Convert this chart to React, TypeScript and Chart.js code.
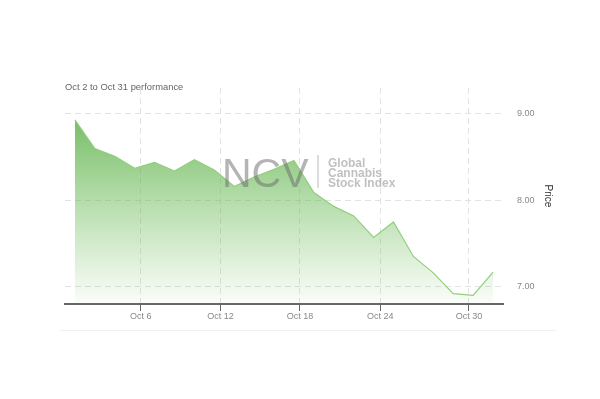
import React, { useEffect, useRef } from "react";
import { Chart, registerables } from "chart.js";

Chart.register(...registerables);

// Trading days Oct 2 – Oct 31
const dates = [
  "Oct 2", "Oct 3", "Oct 4", "Oct 5", "Oct 6",
  "Oct 9", "Oct 10", "Oct 11", "Oct 12", "Oct 13",
  "Oct 16", "Oct 17", "Oct 18", "Oct 19", "Oct 20",
  "Oct 23", "Oct 24", "Oct 25", "Oct 26", "Oct 27",
  "Oct 30", "Oct 31",
];
const prices = [
  8.93, 8.6, 8.51, 8.37, 8.44,
  8.34, 8.47, 8.35, 8.16, 8.27,
  8.36, 8.46, 8.09, 7.93, 7.82,
  7.57, 7.75, 7.35, 7.16, 6.92,
  6.9, 7.17,
];
const xTickPositions = [3.31, 7.31, 11.3, 15.33, 19.79];
const xTickLabels = ["Oct 6", "Oct 12", "Oct 18", "Oct 24", "Oct 30"];
const yTicks = [7, 8, 9];
const subtitle = "Oct 2 to Oct 31 performance";
const watermarkBig = "NCV";
const watermarkLines = ["Global", "Cannabis", "Stock Index"];

const FONT = "'Liberation Sans', Arial, sans-serif";

const decorPlugin = {
  id: "decor",
  beforeDraw(chart: any) {
    const ctx = chart.ctx;
    ctx.save();
    ctx.strokeStyle = "#f1f1f1";
    ctx.lineWidth = 1;
    ctx.beginPath();
    ctx.moveTo(60, 330.5);
    ctx.lineTo(556, 330.5);
    ctx.stroke();
    ctx.fillStyle = "#666";
    ctx.font = `9.4px ${FONT}`;
    ctx.textBaseline = "middle";
    ctx.textAlign = "left";
    ctx.fillText(subtitle, 65, 87);
    ctx.restore();
  },
  afterDatasetsDraw(chart: any) {
    const ctx = chart.ctx;
    const { left, top } = chart.chartArea;
    ctx.save();
    ctx.textAlign = "left";
    ctx.textBaseline = "alphabetic";
    ctx.fillStyle = "rgba(105,105,105,0.5)";
    ctx.font = `41px ${FONT}`;
    ctx.fillText(watermarkBig, left + 157, top + 99);
    ctx.strokeStyle = "rgba(150,150,150,0.45)";
    ctx.lineWidth = 1.5;
    ctx.beginPath();
    ctx.moveTo(left + 253, top + 67);
    ctx.lineTo(left + 253, top + 100);
    ctx.stroke();
    ctx.fillStyle = "rgba(150,150,150,0.6)";
    ctx.font = `bold 12px ${FONT}`;
    watermarkLines.forEach((t, i) => {
      ctx.fillText(t, left + 263, top + 79 + i * 10);
    });
    ctx.restore();
  },
};

export default function App() {
  const canvasRef = useRef<HTMLCanvasElement | null>(null);

  useEffect(() => {
    const canvas = canvasRef.current;
    if (!canvas) return;
    const chart = new Chart(canvas, {
      type: "line",
      data: {
        labels: dates,
        datasets: [
          {
            label: "Price",
            data: prices.map((p, i) => ({ x: i, y: p })),
            borderColor: "rgb(145,207,125)",
            borderWidth: 1.2,
            pointRadius: 0,
            tension: 0,
            fill: "start",
            backgroundColor: (c: any) => {
              const area = c.chart.chartArea;
              if (!area) return "rgba(95,178,75,0.5)";
              const g = c.chart.ctx.createLinearGradient(0, area.top, 0, area.bottom);
              g.addColorStop(0, "rgba(92,176,72,0.98)");
              g.addColorStop(0.5, "rgba(100,182,80,0.5)");
              g.addColorStop(1, "rgba(110,190,90,0.03)");
              return g;
            },
          },
        ],
      },
      options: {
        responsive: false,
        animation: false,
        devicePixelRatio: 1,
        layout: { padding: { left: 65, top: 88, right: 0, bottom: 0 } },
        plugins: {
          legend: { display: false },
          tooltip: { enabled: false },
          title: { display: false },
        },
        scales: {
          x: {
            type: "linear",
            position: "bottom",
            min: -0.5,
            max: 21.5,
            afterBuildTicks: (s: any) => {
              s.ticks = xTickPositions.map((v) => ({ value: v }));
            },
            afterFit: (s: any) => {
              s.height = 95;
            },
            ticks: {
              autoSkip: false,
              maxRotation: 0,
              color: "#888",
              font: { size: 9, family: FONT },
              padding: 0,
              callback: (_v: any, i: number) => xTickLabels[i],
            },
            grid: {
              color: "#e2e2e2",
              lineWidth: 1,
              drawTicks: true,
              tickLength: 7,
              tickColor: "#666",
              tickWidth: 1,
            },
            border: { display: true, color: "#666", width: 2, dash: [6, 4] },
          },
          y: {
            type: "linear",
            position: "right",
            min: 6.8,
            max: 9.3,
            afterBuildTicks: (s: any) => {
              s.ticks = yTicks.map((v) => ({ value: v }));
            },
            afterFit: (s: any) => {
              s.width = 97;
            },
            ticks: {
              color: "#888",
              font: { size: 9, family: FONT },
              padding: 14,
              callback: (v: any) => Number(v).toFixed(2),
            },
            grid: {
              color: "#e2e2e2",
              lineWidth: 1,
              drawTicks: false,
            },
            border: { display: false, dash: [6, 4] },
            title: {
              display: true,
              text: "Price",
              color: "#333",
              font: { size: 10, family: FONT },
              padding: { top: 46, bottom: 0 },
            },
          },
        },
      },
      plugins: [decorPlugin],
    } as any);
    return () => chart.destroy();
  }, []);

  return (
    <div
      style={{
        position: "fixed",
        left: 0,
        top: 0,
        width: 600,
        height: 399,
        background: "#fff",
      }}
    >
      <canvas ref={canvasRef} width={600} height={399} style={{ display: "block" }} />
    </div>
  );
}
